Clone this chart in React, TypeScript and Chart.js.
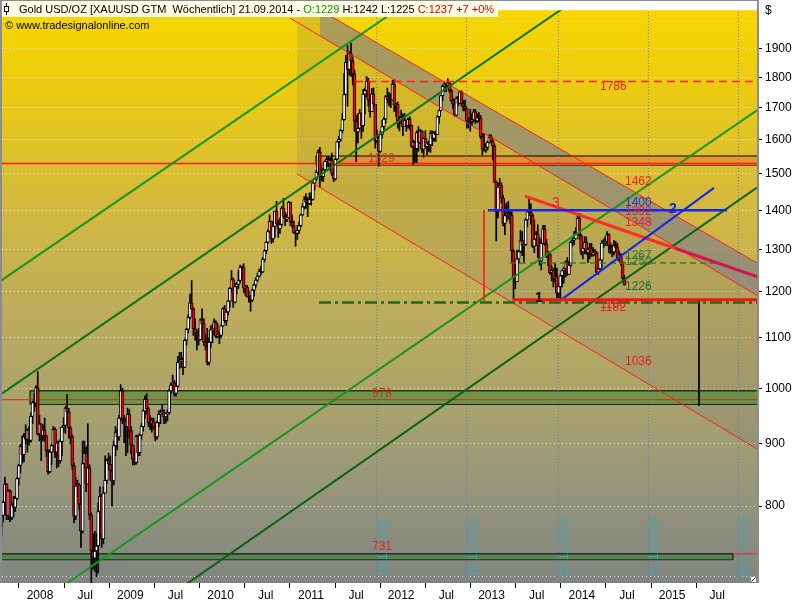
import { useEffect, useRef } from 'react';
import { Chart, registerables } from 'chart.js';

Chart.register(...registerables);

const FONT = "'Liberation Sans', Arial, sans-serif";

// Weekly candles starting with the week of 22.10.2007.
// Each week opens at the previous week's close.
const firstWeek = '2007-10-22';
const firstOpen = 770;

const closes2007 = [786, 806, 834, 786, 823, 783, 802, 798, 812, 843];
const highs2007 = [790, 808, 845, 835, 826, 825, 805, 815, 815, 845];
const lows2007 = [755, 776, 805, 780, 780, 777, 780, 784, 792, 810];

const closes2008 = [864, 896, 882, 912, 908, 924, 906, 948, 973, 972, 1001, 917, 935, 914, 924, 914, 888, 854, 886, 897, 925, 886, 902, 872, 904, 929, 932, 963, 956, 928, 912, 864, 785, 831, 833, 803, 763, 867, 884, 834, 860, 787, 735, 725, 735, 742, 792, 815, 752, 820, 840, 872];
const highs2008 = [866, 899, 914, 918, 933, 926, 930, 955, 976, 990, 1005, 1032, 950, 930, 933, 945, 915, 890, 890, 900, 930, 928, 905, 905, 908, 930, 946, 966, 988, 962, 930, 915, 868, 845, 840, 835, 808, 905, 905, 895, 935, 865, 790, 760, 763, 760, 805, 830, 818, 830, 880, 875];
const lows2008 = [832, 852, 868, 870, 900, 886, 898, 903, 935, 957, 965, 915, 905, 872, 905, 904, 878, 850, 852, 865, 890, 877, 860, 862, 868, 880, 920, 918, 950, 910, 900, 858, 775, 780, 815, 795, 740, 760, 860, 822, 835, 780, 681, 710, 707, 700, 705, 780, 740, 745, 820, 835];

const closes2009 = [866, 855, 839, 897, 920, 912, 945, 995, 943, 940, 930, 952, 923, 898, 874, 869, 913, 885, 915, 930, 958, 979, 962, 936, 936, 940, 929, 912, 937, 952, 954, 956, 947, 953, 955, 995, 1006, 1010, 990, 1004, 1050, 1051, 1056, 1040, 1095, 1118, 1143, 1175, 1162, 1119, 1109, 1104];
const highs2009 = [884, 880, 862, 905, 930, 925, 950, 1007, 1000, 950, 945, 963, 960, 930, 895, 892, 915, 915, 918, 935, 960, 985, 990, 965, 950, 945, 945, 935, 940, 958, 960, 970, 960, 955, 960, 998, 1010, 1025, 1015, 1010, 1062, 1070, 1070, 1060, 1098, 1120, 1150, 1195, 1226, 1165, 1140, 1115];
const lows2009 = [857, 840, 800, 833, 880, 890, 906, 940, 935, 902, 880, 885, 910, 883, 865, 865, 866, 880, 880, 908, 922, 945, 952, 930, 925, 920, 925, 905, 908, 930, 935, 952, 935, 936, 940, 952, 990, 997, 985, 985, 1002, 1038, 1040, 1026, 1040, 1085, 1110, 1140, 1160, 1105, 1095, 1075];

const closes2010 = [1096, 1138, 1130, 1091, 1083, 1050, 1091, 1117, 1118, 1133, 1103, 1107, 1105, 1125, 1162, 1136, 1155, 1179, 1208, 1228, 1177, 1212, 1217, 1226, 1257, 1256, 1209, 1210, 1189, 1189, 1181, 1204, 1216, 1227, 1236, 1247, 1246, 1276, 1297, 1318, 1345, 1371, 1326, 1358, 1398, 1365, 1352, 1363, 1406, 1384, 1378, 1380, 1421];
const highs2010 = [1120, 1140, 1162, 1140, 1108, 1120, 1100, 1125, 1128, 1140, 1136, 1130, 1112, 1128, 1165, 1169, 1160, 1180, 1210, 1249, 1232, 1220, 1222, 1250, 1262, 1260, 1265, 1215, 1215, 1202, 1192, 1206, 1218, 1232, 1242, 1253, 1260, 1281, 1300, 1320, 1350, 1388, 1372, 1360, 1398, 1424, 1375, 1380, 1410, 1432, 1395, 1390, 1424];
const lows2010 = [1085, 1095, 1120, 1085, 1075, 1045, 1045, 1080, 1090, 1106, 1100, 1100, 1088, 1100, 1124, 1132, 1126, 1148, 1165, 1200, 1165, 1175, 1195, 1208, 1220, 1232, 1198, 1192, 1188, 1177, 1157, 1178, 1190, 1210, 1223, 1233, 1240, 1244, 1270, 1290, 1315, 1340, 1315, 1318, 1330, 1360, 1330, 1340, 1358, 1380, 1360, 1370, 1378];

const closes2011 = [1369, 1360, 1342, 1340, 1348, 1360, 1388, 1409, 1429, 1421, 1418, 1429, 1429, 1474, 1486, 1504, 1563, 1492, 1492, 1511, 1536, 1542, 1529, 1539, 1501, 1486, 1542, 1594, 1601, 1628, 1662, 1743, 1852, 1828, 1883, 1856, 1813, 1656, 1624, 1635, 1683, 1643, 1744, 1756, 1788, 1724, 1687, 1745, 1711, 1597, 1606, 1565];
const highs2011 = [1422, 1388, 1372, 1348, 1360, 1370, 1390, 1418, 1437, 1445, 1435, 1447, 1447, 1476, 1487, 1510, 1570, 1577, 1520, 1515, 1538, 1550, 1550, 1547, 1560, 1513, 1545, 1595, 1610, 1632, 1681, 1814, 1877, 1912, 1890, 1921, 1871, 1825, 1675, 1680, 1695, 1682, 1760, 1764, 1803, 1797, 1725, 1763, 1765, 1711, 1630, 1615];
const lows2011 = [1360, 1355, 1340, 1308, 1325, 1340, 1357, 1385, 1403, 1405, 1383, 1415, 1414, 1427, 1455, 1480, 1500, 1462, 1480, 1478, 1505, 1520, 1520, 1510, 1495, 1478, 1482, 1540, 1575, 1595, 1620, 1660, 1742, 1705, 1808, 1803, 1775, 1627, 1535, 1590, 1630, 1604, 1625, 1680, 1735, 1705, 1670, 1690, 1700, 1575, 1590, 1522];

const closes2012 = [1616, 1640, 1664, 1736, 1725, 1725, 1724, 1777, 1710, 1712, 1659, 1662, 1669, 1640, 1660, 1643, 1663, 1645, 1580, 1592, 1573, 1622, 1592, 1627, 1572, 1604, 1579, 1591, 1584, 1620, 1604, 1620, 1615, 1671, 1691, 1739, 1770, 1773, 1773, 1780, 1756, 1723, 1711, 1676, 1731, 1714, 1752, 1713, 1704, 1697, 1658, 1656];
const highs2012 = [1626, 1660, 1670, 1740, 1764, 1750, 1745, 1790, 1792, 1715, 1718, 1672, 1692, 1680, 1682, 1660, 1668, 1672, 1645, 1600, 1597, 1627, 1640, 1632, 1628, 1605, 1627, 1594, 1597, 1628, 1627, 1625, 1626, 1675, 1693, 1740, 1775, 1785, 1781, 1796, 1785, 1760, 1730, 1728, 1735, 1737, 1755, 1755, 1723, 1725, 1698, 1668];
const lows2012 = [1562, 1605, 1628, 1651, 1715, 1705, 1700, 1730, 1688, 1672, 1635, 1627, 1648, 1612, 1640, 1626, 1635, 1630, 1577, 1527, 1533, 1532, 1565, 1588, 1562, 1548, 1575, 1555, 1565, 1562, 1582, 1595, 1595, 1615, 1650, 1690, 1723, 1753, 1752, 1765, 1750, 1720, 1697, 1672, 1673, 1706, 1712, 1705, 1690, 1690, 1635, 1636];

const closes2013 = [1656, 1661, 1687, 1658, 1668, 1667, 1609, 1572, 1573, 1577, 1592, 1607, 1596, 1581, 1476, 1396, 1463, 1467, 1432, 1366, 1386, 1391, 1383, 1387, 1297, 1234, 1223, 1277, 1295, 1322, 1310, 1312, 1375, 1396, 1395, 1386, 1308, 1326, 1338, 1310, 1272, 1315, 1352, 1314, 1285, 1288, 1244, 1250, 1230, 1235, 1197, 1212];
const highs2013 = [1695, 1680, 1695, 1694, 1680, 1684, 1675, 1620, 1619, 1589, 1596, 1616, 1615, 1605, 1588, 1480, 1475, 1487, 1475, 1440, 1418, 1420, 1424, 1398, 1396, 1300, 1268, 1298, 1299, 1348, 1345, 1322, 1378, 1400, 1434, 1417, 1392, 1375, 1345, 1362, 1330, 1325, 1361, 1361, 1325, 1295, 1294, 1260, 1255, 1267, 1255, 1218];
const lows2013 = [1626, 1645, 1655, 1650, 1653, 1655, 1603, 1555, 1566, 1562, 1569, 1590, 1590, 1540, 1476, 1321, 1380, 1443, 1420, 1359, 1337, 1370, 1377, 1366, 1269, 1180, 1207, 1230, 1267, 1293, 1285, 1270, 1310, 1357, 1390, 1364, 1305, 1292, 1310, 1280, 1262, 1251, 1313, 1310, 1280, 1261, 1240, 1225, 1211, 1222, 1185, 1186];

const closes2014 = [1237, 1249, 1254, 1270, 1240, 1262, 1318, 1323, 1326, 1340, 1379, 1335, 1294, 1302, 1318, 1293, 1300, 1302, 1288, 1293, 1292, 1245, 1253, 1274, 1316, 1317, 1320, 1337, 1310, 1307, 1294, 1310, 1305, 1280, 1287, 1268, 1231, 1216];
const highs2014 = [1240, 1250, 1256, 1272, 1280, 1272, 1320, 1333, 1345, 1355, 1385, 1392, 1338, 1308, 1332, 1331, 1305, 1315, 1315, 1305, 1300, 1295, 1256, 1278, 1322, 1326, 1332, 1345, 1339, 1316, 1311, 1322, 1320, 1315, 1296, 1290, 1270, 1238];
const lows2014 = [1182, 1211, 1220, 1234, 1238, 1240, 1258, 1308, 1312, 1330, 1336, 1325, 1287, 1277, 1290, 1288, 1268, 1277, 1283, 1284, 1285, 1245, 1240, 1248, 1258, 1305, 1310, 1310, 1292, 1290, 1282, 1287, 1293, 1274, 1272, 1262, 1229, 1215];

const closes = [...closes2007, ...closes2008, ...closes2009, ...closes2010, ...closes2011, ...closes2012, ...closes2013, ...closes2014];
const highs = [...highs2007, ...highs2008, ...highs2009, ...highs2010, ...highs2011, ...highs2012, ...highs2013, ...highs2014];
const lows = [...lows2007, ...lows2008, ...lows2009, ...lows2010, ...lows2011, ...lows2012, ...lows2013, ...lows2014];

// axes (x in decimal years)
const xMin = 2007.81174;
const xMax = 2016.17276;
const yMin = 691.8;
const yMax = 2044.2;
const xTicks = [2008, 2008.5, 2009, 2009.5, 2010, 2010.5, 2011, 2011.5, 2012, 2012.5, 2013, 2013.5, 2014, 2014.5, 2015, 2015.5];
const xTickLabels = ['2008', 'Jul', '2009', 'Jul', '2010', 'Jul', '2011', 'Jul', '2012', 'Jul', '2013', 'Jul', '2014', 'Jul', '2015', 'Jul'];
const yTicks = [700, 800, 900, 1000, 1100, 1200, 1300, 1400, 1500, 1600, 1700, 1800, 1900, 2000];
const yTickLabels = ['', '800', '900', '1000', '1100', '1200', '1300', '1400', '1500', '1600', '1700', '1800', '1900', ''];

// drawing tools, [decimal year, price]
const greenLine1 = [[2007.7896, 1224], [2012.2193, 2054]];
const greenLine2 = [[2007.7896, 987.6], [2014.0576, 2059.7]];
const greenLine3 = [[2008.4208, 682.7], [2016.1728, 1691.9]];
const greenLine4 = [[2009.7608, 682.7], [2016.1728, 1461.4]];
const channelTop = [[2011.0786, 2097.3], [2016.1728, 1267.5]];
const channelMid = [[2011.0011, 2014.2], [2016.1728, 1192.2]];
const channelLow = [[2011.0786, 1500], [2016.1728, 891.5]];
const bandTop = [[2011.3334, 2045.1], [2016.1728, 1267.5]];
const bandBottom = [[2011.3334, 1947.2], [2016.1728, 1192.2]];

const orangeTop = [[2011.289, 1551.5], [2016.3, 1551.5]];
const orangeBottom = [[2011.289, 1524.9], [2016.3, 1524.9]];
const orangeEdge = [[2011.289, 1524.9], [2011.289, 1551.5]];
const midGreenTop = [[2008.1218, 995], [2016.3, 995]];
const midGreenBottom = [[2008.1218, 969.9], [2016.3, 969.9]];
const midGreenEdge = [[2008.1218, 969.9], [2008.1218, 995]];
const lowGreenTop = [[2007.7, 731], [2015.907, 731]];
const lowGreenBottom = [[2007.7, 723], [2015.907, 723]];
const lowGreenEdge = [[2015.907, 723], [2015.907, 731]];

const level1529 = [[2007.7, 1529.5], [2016.3, 1529.5]];
const level978 = [[2007.7, 978.5], [2016.3, 978.5]];
const level731 = [[2015.907, 731], [2016.3, 731]];
const level1786 = [[2011.7209, 1786], [2016.3, 1786]];
const level1400 = [[2013.1938, 1400], [2015.8406, 1400]];
const level1182 = [[2013.4707, 1182], [2016.3, 1182]];
const level1176 = [[2011.3223, 1176], [2016.3, 1176]];
const level1267 = [[2013.4375, 1267.5], [2015.7298, 1267.5]];
const redDrop = [[2013.1495, 1401], [2013.1495, 1180]];
const targetDrop = [[2015.5305, 1182], [2015.5305, 967]];
const line3a = [[2013.6036, 1437.9], [2015.2647, 1303.1]];
const line3b = [[2015.2647, 1303.1], [2016.206, 1232.6]];
const blueRise = [[2014.0133, 1183.6], [2015.6966, 1460.6]];

const cycleDates = ['2011-12-18', '2012-12-16', '2013-12-22', '2014-12-21', '2015-12-20'];
const cycleLabels = ['18.12.2011', '16.12.2012', '22.12.2013', '21.12.2014', '20.12.2015'];

const priceLabels = [
  { text: '1786', x: 2014.4341, y: 1767.6, color: '#f01e1e' },
  { text: '1529', x: 2011.8649, y: 1542.9, color: '#b8422a' },
  { text: '1462', x: 2014.711, y: 1477.8, color: '#f01e1e' },
  { text: '1400', x: 2014.711, y: 1419.2, color: '#2a36c8' },
  { text: '1392', x: 2014.711, y: 1397.4, color: '#f01e1e' },
  { text: '1348', x: 2014.711, y: 1366.5, color: '#e8203c' },
  { text: '1267', x: 2014.711, y: 1285.5, color: '#2d7a3a' },
  { text: '1250', x: 2014.711, y: 1270.5, color: '#2d7a3a' },
  { text: '1226', x: 2014.711, y: 1210.9, color: '#1f6e2a' },
  { text: '1180', x: 2014.4341, y: 1170.6, color: '#f01e1e' },
  { text: '1182', x: 2014.4341, y: 1165.2, color: '#f01e1e' },
  { text: '1036', x: 2014.711, y: 1050.6, color: '#f01e1e' },
  { text: '978', x: 2011.9092, y: 989.6, color: '#c8301e' },
  { text: '731', x: 2011.9092, y: 741.1, color: '#ff1a1a' },
];
const waveLabels = [
  { text: '3', x: 2013.9468, y: 1418, color: '#f01e1e', bold: false },
  { text: '2', x: 2015.2425, y: 1402.6, color: '#1428d0', bold: true },
  { text: '1', x: 2013.7586, y: 1186, color: '#000000', bold: true },
];

const titleParts = [
  ['Gold USD/OZ [XAUUSD GTM  W\u00f6chentlich] 21.09.2014 - ', '#000000'],
  ['O:1229', '#00a000'],
  [' H:1242 L:1225 ', '#000000'],
  ['C:1237 +7 +0%', '#e00000'],
];

const dayMs = 86400000;
const msToYear = (ms: number) => {
  const y = new Date(ms).getUTCFullYear();
  const s = Date.UTC(y, 0, 1);
  const e = Date.UTC(y + 1, 0, 1);
  return y + (ms - s) / (e - s);
};
const isoToYear = (iso: string) => msToYear(Date.parse(iso + 'T00:00:00Z'));

const pts = (p: number[][]) => p.map(([x, y]) => ({ x, y }));
const seg = (p: number[][], color: string, width: number, order: number, dash: number[] = []) => ({
  type: 'line',
  data: pts(p),
  borderColor: color,
  borderWidth: width,
  borderDash: dash,
  pointRadius: 0,
  pointHoverRadius: 0,
  fill: false,
  tension: 0,
  order,
});
const area = (top: number[][], bottom: number[][], color: string, order: number, edge = 'rgba(0,0,0,0)', edgeWidth = 0) => [
  { ...seg(top, edge, edgeWidth, order), fill: '+1', backgroundColor: color },
  seg(bottom, edge, edgeWidth, order),
];

const backdrop = {
  id: 'backdrop',
  beforeDraw(chart: any) {
    const { ctx, chartArea: a } = chart;
    ctx.save();
    ctx.fillStyle = '#ffffff';
    ctx.fillRect(0, 0, chart.width, chart.height);
    const g = ctx.createLinearGradient(0, a.top, 0, a.bottom);
    g.addColorStop(0, '#f8d600');
    g.addColorStop(0.15, '#eaca14');
    g.addColorStop(0.32, '#d6bb3a');
    g.addColorStop(0.5, '#c0ae58');
    g.addColorStop(0.68, '#aba36c');
    g.addColorStop(0.85, '#94957c');
    g.addColorStop(1, '#808580');
    ctx.fillStyle = g;
    ctx.fillRect(a.left, a.top, a.right - a.left, a.bottom - a.top);
    ctx.restore();
  },
};

const annotations = {
  id: 'annotations',
  afterDraw(chart: any) {
    const { ctx, chartArea: a } = chart;
    const xs = chart.scales.x;
    const ys = chart.scales.y;
    ctx.save();
    ctx.beginPath();
    ctx.rect(a.left, a.top, a.right - a.left, a.bottom - a.top);
    ctx.clip();

    // cycle dates, written upwards next to their dotted lines
    ctx.font = `12px ${FONT}`;
    ctx.fillStyle = 'rgba(64,168,178,0.95)';
    ctx.textAlign = 'left';
    ctx.textBaseline = 'alphabetic';
    cycleDates.forEach((d, i) => {
      const px = xs.getPixelForValue(isoToYear(d));
      ctx.save();
      ctx.translate(px + 10, a.bottom - 6);
      ctx.rotate(-Math.PI / 2);
      ctx.fillText(cycleLabels[i], 0, 0);
      ctx.restore();
    });

    ctx.textBaseline = 'middle';
    ctx.font = `12px ${FONT}`;
    priceLabels.forEach((l) => {
      ctx.fillStyle = l.color;
      ctx.fillText(l.text, xs.getPixelForValue(l.x), ys.getPixelForValue(l.y));
    });
    ctx.textAlign = 'center';
    waveLabels.forEach((l) => {
      ctx.font = `${l.bold ? 'bold ' : ''}14px ${FONT}`;
      ctx.fillStyle = l.color;
      ctx.fillText(l.text, xs.getPixelForValue(l.x), ys.getPixelForValue(l.y));
    });
    ctx.restore();

    // frame
    ctx.save();
    ctx.fillStyle = '#8c8c8c';
    ctx.fillRect(0, 0, 2, a.bottom);
    ctx.fillRect(a.right, 0, 2, a.bottom);
    ctx.fillRect(0, 0, a.right + 2, 1);
    ctx.fillStyle = '#ffffff';
    ctx.fillRect(a.right - 6, a.bottom - 6, 5, 5);
    ctx.strokeStyle = '#000';
    ctx.lineWidth = 1;
    ctx.beginPath();
    ctx.moveTo(a.right - 5.5, a.bottom - 1.5);
    ctx.lineTo(a.right - 1.5, a.bottom - 5.5);
    ctx.stroke();

    // title box
    ctx.font = `11px ${FONT}`;
    ctx.textAlign = 'left';
    ctx.textBaseline = 'alphabetic';
    let tx = 19;
    const widths = titleParts.map(([t]) => ctx.measureText(t).width);
    const total = widths.reduce((s, w) => s + w, 0);
    ctx.fillStyle = '#fffde4';
    ctx.fillRect(2, 1, tx + total + 4 - 2, 16);
    titleParts.forEach(([t, c], i) => {
      ctx.fillStyle = c;
      ctx.fillText(t, tx, 13);
      tx += widths[i];
    });
    // candle symbol
    ctx.strokeStyle = '#000';
    ctx.beginPath();
    ctx.moveTo(6.5, 3);
    ctx.lineTo(6.5, 15);
    ctx.stroke();
    ctx.fillStyle = '#fffde4';
    ctx.fillRect(4.5, 6.5, 4, 5);
    ctx.strokeRect(4.5, 6.5, 4, 5);

    ctx.fillStyle = '#000';
    ctx.font = `11px ${FONT}`;
    ctx.fillText('\u00a9 www.tradesignalonline.com', 5, 29);

    ctx.font = `12px ${FONT}`;
    ctx.fillText('$', a.right + 8, 14);
    ctx.restore();
  },
};

const GoldChart = () => {
  const chartRef = useRef<HTMLCanvasElement>(null);
  const chartInstance = useRef<Chart | null>(null);

  useEffect(() => {
    if (!chartRef.current) return;
    if (chartInstance.current) chartInstance.current.destroy();

    const startMs = Date.parse(firstWeek + 'T00:00:00Z');
    const weekX = closes.map((_, i) => msToYear(startMs + i * 7 * dayMs));
    const opens = closes.map((_, i) => (i === 0 ? firstOpen : closes[i - 1]));
    const bodyColors = closes.map((c, i) => (c >= opens[i] ? '#ffffff' : '#ff0000'));

    const cycleLines = cycleDates.map((d) => {
      const t = isoToYear(d);
      return seg([[t, 650], [t, 2100]], '#4d7fbf', 1, 70, [1, 2]);
    });

    const datasets: any[] = [
      ...area(channelTop, channelLow, 'rgba(108,106,122,0.18)', 90),
      ...area(bandTop, bandBottom, 'rgba(128,128,140,0.55)', 85),
      ...area(orangeTop, orangeBottom, 'rgba(236,132,40,0.72)', 80, '#000000', 1),
      ...area(midGreenTop, midGreenBottom, 'rgba(72,140,48,0.6)', 80, '#000000', 1),
      ...area(lowGreenTop, lowGreenBottom, 'rgba(62,128,56,0.62)', 80, '#000000', 1),
      seg(orangeEdge, '#000000', 1, 79),
      seg(midGreenEdge, '#000000', 1, 79),
      seg(lowGreenEdge, '#000000', 1, 79),
      seg(level1529, '#ff1a1a', 1.5, 75),
      seg(level978, '#d42a1a', 1, 75),
      seg(level731, '#ff1a1a', 1, 75),
      ...cycleLines,
      {
        type: 'bar',
        data: weekX.map((x, i) => ({ x, y: [Math.min(lows[i], opens[i], closes[i]), Math.max(highs[i], opens[i], closes[i])] })),
        backgroundColor: '#000000',
        barThickness: 1,
        grouped: false,
        order: 61,
      },
      {
        type: 'bar',
        data: weekX.map((x, i) => ({ x, y: [opens[i], closes[i]] })),
        backgroundColor: bodyColors,
        borderColor: '#000000',
        borderWidth: 1,
        borderSkipped: false,
        barThickness: 3,
        grouped: false,
        order: 60,
      },
      seg(greenLine1, '#15961d', 2, 40),
      seg(greenLine2, '#0d7413', 2, 40),
      seg(greenLine3, '#16961e', 2, 40),
      seg(greenLine4, '#0b6212', 2, 40),
      seg(channelTop, '#ff2020', 1, 40),
      seg(channelMid, '#ff2020', 1, 40),
      seg(channelLow, '#ff2020', 1, 40),
      seg(level1786, '#ff1e1e', 1.5, 20, [8, 5]),
      seg(level1176, '#1b6b1b', 2.5, 20, [12, 4, 3, 4]),
      seg(level1267, '#22881f', 1.5, 20, [6, 4]),
      seg(redDrop, '#ff2020', 1, 20),
      seg(targetDrop, '#000000', 1, 20),
      seg(level1400, '#1428e6', 2.5, 15),
      seg(blueRise, '#1428e6', 2, 15),
      seg(line3a, '#ff2a2a', 3, 15),
      seg(line3b, '#d4164c', 3, 15),
      seg(level1182, '#ff1010', 3, 12),
    ];

    chartInstance.current = new Chart(chartRef.current, {
      type: 'bar',
      data: { datasets },
      plugins: [backdrop, annotations],
      options: {
        animation: false,
        responsive: false,
        devicePixelRatio: 1,
        events: [],
        layout: { padding: { left: 2, top: 2, right: 0, bottom: 0 } },
        plugins: { legend: { display: false }, tooltip: { enabled: false } },
        scales: {
          x: {
            type: 'linear',
            min: xMin,
            max: xMax,
            offset: false,
            afterBuildTicks: (s: any) => {
              s.ticks = xTicks.map((v) => ({ value: v }));
            },
            afterFit: (s: any) => {
              s.height = 17;
            },
            grid: { offset: false, drawOnChartArea: false, drawTicks: true, tickLength: 5, tickColor: '#000000', color: '#000000' },
            border: { display: false },
            ticks: {
              autoSkip: false,
              maxRotation: 0,
              padding: 0,
              labelOffset: 21,
              color: '#000000',
              font: { family: FONT, size: 12 },
              callback: (_v: any, i: number) => xTickLabels[i],
            },
          },
          y: {
            type: 'logarithmic',
            position: 'right',
            min: yMin,
            max: yMax,
            afterBuildTicks: (s: any) => {
              s.ticks = yTicks.map((v) => ({ value: v }));
            },
            afterFit: (s: any) => {
              s.width = 43;
            },
            grid: {
              color: 'rgba(236,236,236,0.9)',
              lineWidth: 1,
              drawTicks: true,
              tickLength: 5,
              tickBorderDash: [],
              tickColor: (c: any) => (c.tick && c.tick.value > 750 && c.tick.value < 1950 ? '#000000' : 'rgba(0,0,0,0)'),
            },
            border: { display: false, dash: [1, 3] },
            ticks: {
              autoSkip: false,
              padding: 3,
              color: '#000000',
              font: { family: FONT, size: 12 },
              callback: (_v: any, i: number) => yTickLabels[i],
            },
          },
        },
      },
    } as any);

    return () => {
      if (chartInstance.current) {
        chartInstance.current.destroy();
        chartInstance.current = null;
      }
    };
  }, []);

  return (
    <div style={{ position: 'absolute', left: 0, top: 0, width: 800, height: 600 }}>
      <canvas ref={chartRef} width={800} height={600} style={{ display: 'block' }} />
    </div>
  );
};

export default function App() {
  return <GoldChart />;
}
